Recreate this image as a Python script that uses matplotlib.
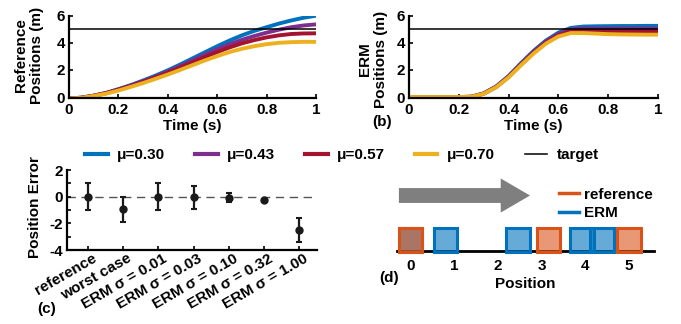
import matplotlib
matplotlib.use('Agg')
import matplotlib.pyplot as plt
from matplotlib.patches import Rectangle
from matplotlib.lines import Line2D
import matplotlib.transforms as mtransforms

plt.rcParams['font.family'] = ['Liberation Sans', 'DejaVu Sans']
plt.rcParams['font.weight'] = 'bold'
plt.rcParams['font.size'] = 11
plt.rcParams['axes.labelweight'] = 'bold'
plt.rcParams['xtick.direction'] = 'in'
plt.rcParams['ytick.direction'] = 'in'

# ---------------- data ----------------
time = [0.00, 0.05, 0.10, 0.15, 0.20, 0.25, 0.30, 0.35, 0.40, 0.45, 0.50,
        0.55, 0.60, 0.65, 0.70, 0.75, 0.80, 0.85, 0.90, 0.95, 1.00]
mu_labels = ['μ=0.30', 'μ=0.43', 'μ=0.57', 'μ=0.70']
colors = ['#0072BD', '#7E2F8E', '#A2142F', '#EDB120']
target = 5.0

ref_mu030 = [-0.10, -0.05, 0.10, 0.30, 0.58, 0.88, 1.22, 1.58, 1.97, 2.40, 2.85,
             3.30, 3.75, 4.17, 4.55, 4.88, 5.15, 5.42, 5.65, 5.85, 6.00]
ref_mu043 = [-0.10, -0.05, 0.10, 0.30, 0.56, 0.85, 1.17, 1.50, 1.88, 2.28, 2.70,
             3.12, 3.52, 3.90, 4.22, 4.50, 4.75, 4.97, 5.15, 5.28, 5.36]
ref_mu057 = [-0.10, -0.05, 0.10, 0.28, 0.54, 0.82, 1.12, 1.45, 1.80, 2.17, 2.56,
             2.95, 3.32, 3.66, 3.96, 4.20, 4.40, 4.55, 4.65, 4.69, 4.70]
ref_mu070 = [-0.10, -0.06, 0.08, 0.25, 0.48, 0.75, 1.03, 1.34, 1.66, 2.00, 2.35,
             2.70, 3.02, 3.32, 3.56, 3.75, 3.90, 4.00, 4.05, 4.07, 4.07]

erm_mu030 = [0.00, 0.00, 0.00, 0.00, 0.00, 0.02, 0.27, 0.78, 1.55, 2.50, 3.40,
             4.17, 4.75, 5.10, 5.20, 5.22, 5.23, 5.24, 5.24, 5.25, 5.25]
erm_mu043 = [0.00, 0.00, 0.00, 0.00, 0.00, 0.02, 0.26, 0.76, 1.52, 2.45, 3.34,
             4.10, 4.66, 5.00, 5.05, 5.05, 5.05, 5.05, 5.05, 5.05, 5.05]
erm_mu057 = [0.00, 0.00, 0.00, 0.00, 0.00, 0.02, 0.25, 0.74, 1.48, 2.40, 3.27,
             4.02, 4.56, 4.85, 4.88, 4.87, 4.86, 4.86, 4.85, 4.85, 4.85]
erm_mu070 = [0.00, 0.00, 0.00, 0.00, 0.00, 0.02, 0.24, 0.72, 1.45, 2.35, 3.20,
             3.94, 4.47, 4.72, 4.72, 4.68, 4.64, 4.62, 4.61, 4.60, 4.60]

err_labels = ['reference', 'worst case', 'ERM σ = 0.01', 'ERM σ = 0.03',
              'ERM σ = 0.10', 'ERM σ = 0.32', 'ERM σ = 1.00']
err_mean = [0.0, -0.95, 0.0, -0.05, -0.08, -0.25, -2.5]
err_std = [1.0, 0.95, 1.0, 0.85, 0.32, 0.05, 0.87]

pos_ticks = [0, 1, 2, 3, 4, 5]
ref_positions = [0.0, 3.15, 5.0]
erm_positions = [0.0, 0.80, 2.46, 3.92, 4.38]

# ---------------- figure ----------------
W, H = 681, 324
fig = plt.figure(figsize=(W / 100, H / 100), dpi=100)


def box(l, t, r, b):
    return [l / W, 1 - b / H, (r - l) / W, (b - t) / H]


def style(ax):
    for s in ['top', 'right']:
        ax.spines[s].set_visible(False)
    for s in ['left', 'bottom']:
        ax.spines[s].set_linewidth(1.6)
    ax.tick_params(length=3, width=1.2, pad=3)


ref_series = [ref_mu030, ref_mu043, ref_mu057, ref_mu070]
erm_series = [erm_mu030, erm_mu043, erm_mu057, erm_mu070]

axA = fig.add_axes(box(69, 15.7, 316, 98.4))
axB = fig.add_axes(box(409, 15.7, 658, 98.4))
for ax, series in [(axA, ref_series), (axB, erm_series)]:
    style(ax)
    for ys, c, lab in zip(series, colors, mu_labels):
        ax.plot(time, ys, color=c, lw=2.8, label=lab, solid_capstyle='butt')
    ax.plot([time[0], time[-1]], [target, target], color='black', lw=1.1, label='target')
    ax.set_xlim(0, 1)
    ax.set_ylim(-0.1, 6)
    ax.set_xticks([0, 0.2, 0.4, 0.6, 0.8, 1])
    ax.set_xticklabels(['0', '0.2', '0.4', '0.6', '0.8', '1'])
    ax.set_yticks([0, 2, 4, 6])
    ax.set_xlabel('Time (s)', labelpad=2)

fig.text(29 / W, 1 - 55 / H, 'Reference\nPositions (m)', rotation=90,
         ha='center', va='center', linespacing=1.15, fontsize=11, fontweight='bold')
fig.text(373 / W, 1 - 59 / H, 'ERM\nPositions (m)', rotation=90,
         ha='center', va='center', linespacing=1.15, fontsize=11, fontweight='bold')
fig.text(382 / W, 1 - 122 / H, '(b)', ha='center', va='center', fontsize=11, fontweight='bold')

# legend row
handles = [Line2D([], [], color=c, lw=3) for c in colors] + [Line2D([], [], color='black', lw=1.1)]
fig.legend(handles, mu_labels + ['target'], loc='center', bbox_to_anchor=(342 / W, 1 - 155 / H),
           ncol=5, frameon=False, handlelength=1.45, handletextpad=0.6, columnspacing=2.0,
           borderpad=0, fontsize=11)

# panel (c)
axC = fig.add_axes(box(67, 170, 317, 250))
style(axC)
xpos = list(range(1, len(err_labels) + 1))
axC.axhline(0, color='#555555', lw=1.0, ls=(0, (6, 4)), zorder=1)
axC.errorbar(xpos, err_mean, yerr=err_std, fmt='o', color='#1a1a1a', ms=5,
             capsize=2.5, elinewidth=1.6, capthick=1.5, zorder=3)
axC.set_xlim(0.41, 7.5)
axC.set_ylim(-4, 2)
axC.set_yticks([-4, -3, -2, -1, 0, 1, 2])
axC.set_yticklabels(['-4', '', '-2', '', '0', '', '2'])
axC.set_xticks(xpos)
axC.set_xticklabels(err_labels, rotation=30, ha='right', rotation_mode='anchor')
axC.tick_params(axis='x', pad=1)
off = mtransforms.ScaledTranslation(4 / 100, 0, fig.dpi_scale_trans)
for lbl in axC.get_xticklabels():
    lbl.set_transform(lbl.get_transform() + off)
fig.text(35 / W, 1 - 207 / H, 'Position Error', rotation=90, ha='center', va='center',
         fontsize=11, fontweight='bold')
fig.text(47 / W, 1 - 309 / H, '(c)', ha='center', va='center', fontsize=11, fontweight='bold')

# panel (d)
axD = fig.add_axes(box(397, 170, 654, 250.7))
unit = 43.7
axD.set_xlim(-13.7 / unit, 243.3 / unit)
axD.set_ylim(0, 80.7 / unit)
for s in ['top', 'right', 'left']:
    axD.spines[s].set_visible(False)
axD.spines['bottom'].set_linewidth(2.0)
axD.set_yticks([])
axD.set_xticks(pos_ticks)
axD.tick_params(axis='x', length=0, pad=6)
axD.set_xlabel('Position', labelpad=3)
side = 0.54
for p in erm_positions:
    axD.add_patch(Rectangle((p - side / 2, -0.02), side, side, facecolor=(0, 0.447, 0.741, 0.6),
                            edgecolor='#0072BD', lw=2.2, clip_on=False, zorder=3))
for p in ref_positions:
    axD.add_patch(Rectangle((p - side / 2, -0.02), side, side, facecolor=(0.851, 0.325, 0.098, 0.6),
                            edgecolor='#D95319', lw=2.2, clip_on=False, zorder=4))
axD.arrow(-0.27, 1.263, 3.0, 0, width=0.34, head_width=0.78, head_length=0.67,
          length_includes_head=True, fc='#7f7f7f', ec='none', zorder=2)
axD.legend([Line2D([], [], color='#D95319', lw=2.5), Line2D([], [], color='#0072BD', lw=2.5)],
           ['reference', 'ERM'], loc='upper left', bbox_to_anchor=(0.63, 0.78), frameon=False,
           handlelength=1.3, handletextpad=0.35, labelspacing=0.3, borderpad=0, borderaxespad=0,
           fontsize=11)
fig.text(389 / W, 1 - 278 / H, '(d)', ha='center', va='center', fontsize=11, fontweight='bold')

fig.savefig('out.png', dpi=100)
